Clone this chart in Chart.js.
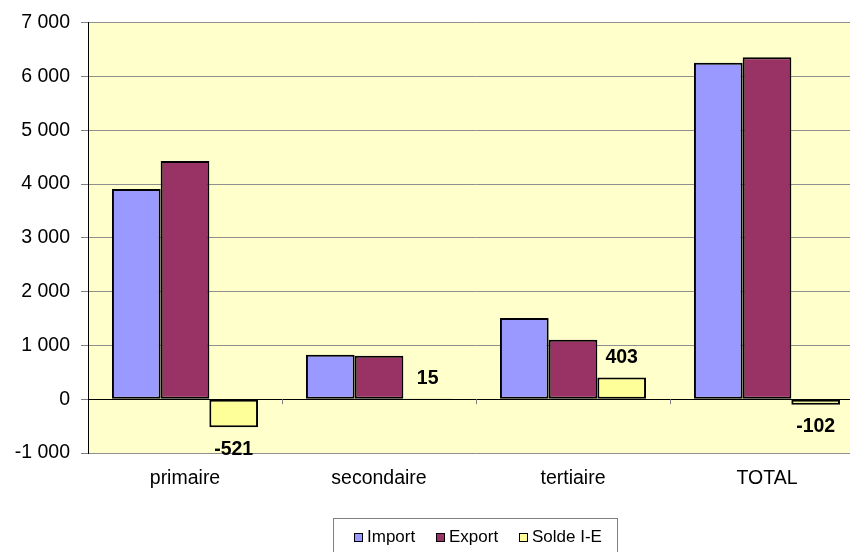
<!DOCTYPE html>
<html>
<head>
<meta charset="utf-8">
<script src="https://cdn.jsdelivr.net/npm/chart.js@4.4.0/dist/chart.umd.min.js"></script>
<style>
    body { margin: 0; background: #fff; }
    #wrap { position: relative; width: 850px; height: 552px; overflow: hidden; }
    #legend {
        position: absolute; left: 333px; top: 518px; width: 285px; height: 40px;
        border: 1px solid #808080; box-sizing: border-box;
        font: 17px "Liberation Sans", Arial, sans-serif; color: #000;
    }
    .item { position: absolute; top: 8px; display: flex; align-items: center; line-height: 20px; }
    .box { width: 7px; height: 7px; border: 1.5px solid #000; margin-right: 4px; }
</style>
</head>
<body>
<div id="wrap">
    <canvas id="chart" width="864" height="552"></canvas>
    <div id="legend"></div>
</div>
<script>
// Chart data
const categories = ['primaire', 'secondaire', 'tertiaire', 'TOTAL'];
const importValues = [3910, 825, 1510, 6255];
const exportValues = [4431, 810, 1107, 6357];
const soldeValues = [-521, 15, 403, -102];
const seriesNames = ['Import', 'Export', 'Solde I-E'];
const seriesColors = ['#9999FF', '#993366', '#FFFF99'];
const yMin = -1000, yMax = 7000, yStep = 1000;

Chart.defaults.font.family = '"Liberation Sans", Arial, sans-serif';
Chart.defaults.font.size = 19.5;
Chart.defaults.color = '#000';

// Yellow plot area background
const plotBackground = {
    id: 'plotBackground',
    beforeDraw(chart) {
        const { ctx, chartArea: a } = chart;
        ctx.save();
        ctx.fillStyle = '#FFFFCC';
        ctx.fillRect(a.left, a.top, a.right - a.left, a.bottom - a.top);
        ctx.restore();
    }
};

// Category ticks on the zero line + value labels on the balance series
const extras = {
    id: 'extras',
    afterDatasetsDraw(chart) {
        const { ctx, scales: { x, y } } = chart;
        const y0 = y.getPixelForValue(0);
        ctx.save();
        ctx.strokeStyle = '#808080';
        ctx.lineWidth = 1;
        for (let i = 1; i < categories.length; i++) {
            const xb = Math.round((x.getPixelForValue(i - 1) + x.getPixelForValue(i)) / 2) + 0.5;
            ctx.beginPath();
            ctx.moveTo(xb, y0);
            ctx.lineTo(xb, y0 + 5);
            ctx.stroke();
        }
        ctx.font = 'bold 19.5px "Liberation Sans", Arial, sans-serif';
        ctx.fillStyle = '#000';
        ctx.textAlign = 'center';
        ctx.textBaseline = 'middle';
        chart.getDatasetMeta(2).data.forEach((bar, i) => {
            const v = soldeValues[i];
            const ty = v >= 0 ? Math.min(bar.y, bar.base) - 20 : Math.max(bar.y, bar.base) + 22;
            ctx.fillText(String(v), bar.x, ty);
        });
        ctx.restore();
    }
};

const datasets = [importValues, exportValues, soldeValues].map((vals, i) => ({
    label: seriesNames[i],
    data: vals,
    backgroundColor: seriesColors[i],
    borderColor: '#000',
    borderWidth: 2,
    borderSkipped: false,
    categoryPercentage: 0.753,
    barPercentage: 1
}));

new Chart(document.getElementById('chart'), {
    type: 'bar',
    data: { labels: categories, datasets: datasets },
    options: {
        responsive: false,
        animation: false,
        layout: { padding: { top: 20, left: 0, right: 0, bottom: 0 } },
        plugins: { legend: { display: false }, tooltip: { enabled: false } },
        scales: {
            x: {
                grid: { display: false, drawTicks: false },
                border: { display: false },
                ticks: { padding: 14, maxRotation: 0 },
                afterFit: s => { s.height = 99; }
            },
            y: {
                min: yMin,
                max: yMax,
                ticks: {
                    stepSize: yStep,
                    padding: 11,
                    callback: v => (v < 0 ? '-' : '') + Math.abs(v).toString().replace(/\B(?=(\d{3})+(?!\d))/g, ' ')
                },
                grid: {
                    color: c => (c.tick && c.tick.value === 0 ? '#000' : '#8f8f8f'),
                    tickLength: 7,
                    tickColor: '#808080'
                },
                border: { color: '#000', width: 1 },
                afterFit: s => { s.width = 88; }
            }
        }
    },
    plugins: [plotBackground, extras]
});

// Legend box
const legend = document.getElementById('legend');
const offsets = [20, 102, 185];
seriesNames.forEach((name, i) => {
    const item = document.createElement('div');
    item.className = 'item';
    item.style.left = offsets[i] + 'px';
    item.innerHTML = `<span class="box" style="background:${seriesColors[i]}"></span><span>${name}</span>`;
    legend.appendChild(item);
});
</script>
</body>
</html>
